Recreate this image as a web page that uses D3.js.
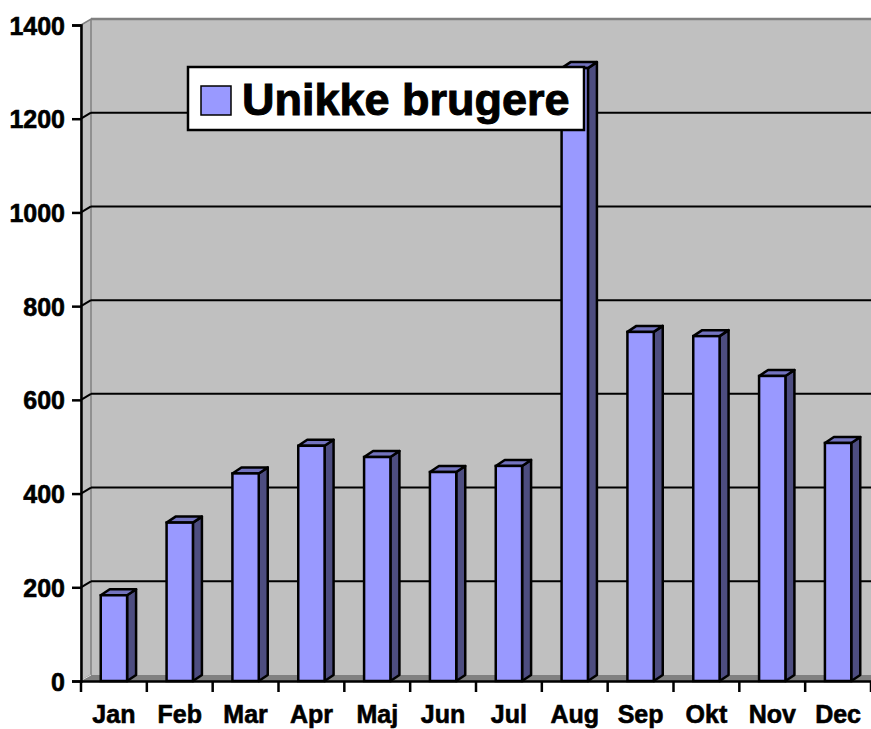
<!DOCTYPE html>
<meta charset="utf-8">
<script type="text/javascript" src="https://cdn.jsdelivr.net/npm/d3@7/dist/d3.min.js" charset="utf-8"></script>
<style>
body { margin: 0; background: #fff; }
text {
  fill: #000;
  stroke: #000;
  stroke-width: 0.6px;
  font-family: "Liberation Sans", Arial, sans-serif;
  font-weight: bold;
}
</style>
<body>
<script>

// data
var months = ["Jan", "Feb", "Mar", "Apr", "Maj", "Jun", "Jul", "Aug", "Sep", "Okt", "Nov", "Dec"];
var users = [183, 338, 443, 502, 478, 446, 459, 1308, 745, 736, 651, 508];
var yTicks = [0, 200, 400, 600, 800, 1000, 1200, 1400];
var seriesName = "Unikke brugere";

var width = 871,
    height = 729;

// 3d offsets
var wdx = 10, wdy = -6;   // walls
var bdx = 9, bdy = -6;    // bars

var x = d3.scaleBand()
    .domain(months)
    .range([81, 871])
    .padding(0);

var y = d3.scaleLinear()
    .domain([0, 1400])
    .range([681, 25]);

var svg = d3.select("body").append("svg")
    .attr("width", width)
    .attr("height", height);

var x0 = x.range()[0], x1 = x.range()[1];

// back wall
svg.append("rect")
    .attr("x", x0 + wdx)
    .attr("y", y(1400) + wdy)
    .attr("width", x1 - x0 + 20)
    .attr("height", y(0) - y(1400))
    .style("fill", "#c0c0c0");

svg.append("line")
    .attr("x1", x0 + wdx).attr("x2", x1 + 20)
    .attr("y1", y(1400) + wdy).attr("y2", y(1400) + wdy)
    .style("stroke", "#808080").style("stroke-width", 2.5);

// side wall
svg.append("path")
    .attr("d", "M" + x0 + "," + y(1400) + "L" + (x0 + wdx) + "," + (y(1400) + wdy) +
      "L" + (x0 + wdx) + "," + (y(0) + wdy) + "L" + x0 + "," + y(0) + "Z")
    .style("fill", "#c0c0c0")
    .style("stroke", "#808080")
    .style("stroke-width", 1.5);

// floor
svg.append("path")
    .attr("d", "M" + x0 + "," + y(0) + "L" + (x0 + wdx) + "," + (y(0) + wdy) +
      "L" + (x1 + 20) + "," + (y(0) + wdy) + "L" + x1 + "," + y(0) + "Z")
    .style("fill", "#808080");

svg.append("line")
    .attr("x1", x0 + 1).attr("x2", x0 + wdx)
    .attr("y1", y(0) - 1).attr("y2", y(0) + wdy)
    .style("stroke", "#e0e0e0").style("stroke-width", 1);

// gridlines
var grid = svg.append("g").selectAll("g")
    .data(yTicks.filter(function(d) { return d > 0 && d < 1400; }))
  .enter().append("g");

grid.append("line")
    .attr("x1", x0 + wdx).attr("x2", x1 + 20)
    .attr("y1", function(d) { return y(d) + wdy; })
    .attr("y2", function(d) { return y(d) + wdy; })
    .style("stroke", "#000").style("stroke-width", 2);

grid.append("line")
    .attr("x1", x0).attr("x2", x0 + wdx)
    .attr("y1", function(d) { return y(d); })
    .attr("y2", function(d) { return y(d) + wdy; })
    .style("stroke", "#000").style("stroke-width", 2);

// bars
var bw = x.bandwidth() * 0.4;

var bar = svg.append("g").selectAll("g")
    .data(users)
  .enter().append("g")
    .attr("transform", function(d, i) {
      return "translate(" + (x(months[i]) + x.bandwidth() * 0.3) + ",0)";
    });

bar.append("path")
    .attr("d", function(d) {
      return "M" + bw + "," + y(d) + "L" + (bw + bdx) + "," + (y(d) + bdy) +
        "L" + (bw + bdx) + "," + (y(0) + bdy) + "L" + bw + "," + y(0) + "Z";
    })
    .style("fill", "#4d4d80")
    .style("stroke", "#000")
    .style("stroke-width", 2.5)
    .style("stroke-linejoin", "round");

bar.append("path")
    .attr("d", function(d) {
      return "M0," + y(d) + "L" + bdx + "," + (y(d) + bdy) +
        "L" + (bw + bdx) + "," + (y(d) + bdy) + "L" + bw + "," + y(d) + "Z";
    })
    .style("fill", "#7373bf")
    .style("stroke", "#000")
    .style("stroke-width", 2.5)
    .style("stroke-linejoin", "round");

bar.append("rect")
    .attr("x", 0)
    .attr("y", function(d) { return y(d); })
    .attr("width", bw)
    .attr("height", function(d) { return y(0) - y(d); })
    .style("fill", "#9999ff")
    .style("stroke", "#000")
    .style("stroke-width", 2.5);

// y axis
var yAxis = svg.append("g")
    .attr("transform", "translate(" + x0 + ",0)")
    .call(d3.axisLeft(y).tickValues(yTicks).tickSize(9).tickPadding(7).tickFormat(d3.format("d")));

yAxis.attr("font-size", null).attr("font-family", null);
yAxis.select(".domain").style("stroke-width", 2.5);
yAxis.selectAll(".tick line").style("stroke-width", 2.5);
yAxis.selectAll("text")
    .style("font-size", "25px")
    .attr("dy", "0.36em");

// x axis
var xAxis = svg.append("g")
    .attr("transform", "translate(0," + y(0) + ")")
    .call(d3.axisBottom(x).tickSize(0).tickPadding(24));

xAxis.attr("font-size", null).attr("font-family", null);
xAxis.select(".domain").style("stroke-width", 2.5);
xAxis.selectAll("text")
    .style("font-size", "25px");

svg.append("g").selectAll("line")
    .data(months.concat(["end"]))
  .enter().append("line")
    .attr("x1", function(d, i) { return x0 + i * x.step(); })
    .attr("x2", function(d, i) { return x0 + i * x.step(); })
    .attr("y1", y(0))
    .attr("y2", y(0) + 11)
    .style("stroke", "#000")
    .style("stroke-width", 2.5);

// legend
var legend = svg.append("g")
    .attr("transform", "translate(188,67)");

legend.append("rect")
    .attr("width", 396)
    .attr("height", 63)
    .style("fill", "#fff")
    .style("stroke", "#000")
    .style("stroke-width", 2.5);

legend.append("rect")
    .attr("x", 13)
    .attr("y", 19)
    .attr("width", 30)
    .attr("height", 29)
    .style("fill", "#9999ff")
    .style("stroke", "#000")
    .style("stroke-width", 1.5);

legend.append("text")
    .attr("x", 54)
    .attr("y", 48)
    .style("font-size", "45px")
    .style("stroke-width", "1px")
    .text(seriesName);

</script>
</body>
</html>
